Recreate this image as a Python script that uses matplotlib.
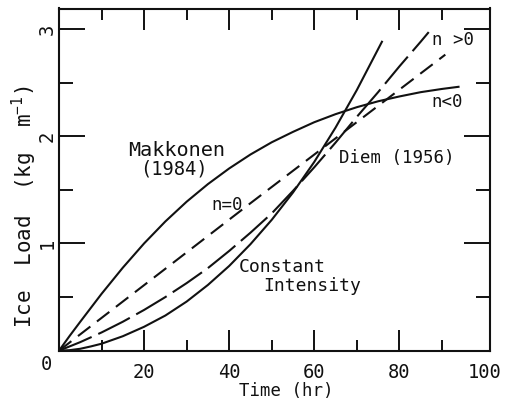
import matplotlib
matplotlib.use("Agg")
import matplotlib.pyplot as plt

plt.rcParams["font.family"] = ["DejaVu Sans Mono", "DejaVu Sans"]
plt.rcParams["mathtext.fontset"] = "custom"
plt.rcParams["mathtext.rm"] = "DejaVu Sans Mono"

# Ice load (kg/m) against time (hr) for the accretion models
time_makkonen = [0, 2.5, 5, 10, 15, 20, 25, 30, 35, 40, 45, 50, 55, 60, 65, 70, 75, 80,
                 85, 90, 93.9]
load_makkonen = [0, 0.138, 0.27, 0.53, 0.774, 1.0, 1.205, 1.389, 1.553, 1.699, 1.829,
                 1.943, 2.04, 2.13, 2.205, 2.27, 2.325, 2.37, 2.41, 2.44, 2.46]

time_n0 = [0, 45, 90.8]
load_n0 = [0, 1.375, 2.76]

time_npos = [0, 5, 10, 15, 20, 25, 30, 35, 40, 45, 50, 55, 60, 65, 70, 75, 80, 85, 86.9]
load_npos = [0, 0.08, 0.17, 0.27, 0.38, 0.50, 0.63, 0.77, 0.93, 1.10, 1.28, 1.49, 1.71,
             1.94, 2.18, 2.41, 2.65, 2.88, 2.97]

time_const = [0, 2.5, 5, 7.5, 10, 15, 20, 25, 30, 35, 40, 45, 50, 55, 60, 65, 70, 75.9]
load_const = [0, 0.005, 0.018, 0.04, 0.065, 0.135, 0.223, 0.328, 0.458, 0.613, 0.79,
              0.993, 1.22, 1.475, 1.76, 2.08, 2.43, 2.88]

x_major = [20, 40, 60, 80, 100]
x_major_labels = ["20", "40", "60", "80", "100"]
x_minor = [10, 30, 50, 70, 90]
y_major = [1, 2, 3]
y_major_labels = ["1", "2", "3"]
y_minor = [0.5, 1.5, 2.5]

ink = "#111111"
W, H = 508, 400

fig = plt.figure(figsize=(W / 100, H / 100), dpi=100)
ax = fig.add_axes([59 / W, (H - 350.7) / H, 431 / W, 342.2 / H])
ax.set_xlim(0, 101.3)
ax.set_ylim(0, 3.19)

lw = 1.5
ax.plot(time_makkonen, load_makkonen, color=ink, lw=lw, solid_joinstyle="round")
ax.plot(time_n0, load_n0, color=ink, lw=lw, dashes=(7.5, 4), dash_capstyle="butt")
ax.plot(time_npos, load_npos, color=ink, lw=lw, dashes=(17, 3.5), dash_capstyle="butt",
        dash_joinstyle="round")
ax.plot(time_const, load_const, color=ink, lw=lw, solid_joinstyle="round")

for s in ax.spines.values():
    s.set_linewidth(1.5)
    s.set_color(ink)

ax.set_xticks(x_major)
ax.set_xticklabels(x_major_labels)
ax.set_xticks(x_minor, minor=True)
ax.set_yticks(y_major)
ax.set_yticklabels(y_major_labels, rotation=90, va="center")
ax.set_yticks(y_minor, minor=True)

ax.tick_params(which="both", direction="in", top=True, right=True, width=1.4,
               color=ink, labelcolor=ink)
ax.tick_params(axis="x", which="major", length=15, pad=8.5, labelsize=13.5)
ax.tick_params(axis="x", which="minor", length=8)
ax.tick_params(axis="y", which="major", length=19, pad=1.5, labelsize=13.5)
ax.tick_params(axis="y", which="minor", length=10)

# the 100 position carries only its label
last = ax.xaxis.get_major_ticks()[-1]
last.tick1line.set_visible(False)
last.tick2line.set_visible(False)

# curve annotations
ax.text(27.7, 1.815, "Makkonen", fontsize=14.5, ha="center", va="baseline", color=ink)
ax.text(27.0, 1.64, "(1984)", fontsize=13.5, ha="center", va="baseline", color=ink)
ax.text(39.4, 1.312, "n=0", fontsize=12.5, ha="center", va="baseline", color=ink)
ax.text(52.5, 0.734, "Constant", fontsize=13, ha="center", va="baseline", color=ink)
ax.text(59.6, 0.557, "Intensity", fontsize=13, ha="center", va="baseline", color=ink)
ax.text(79.4, 1.75, "Diem (1956)", fontsize=12.5, ha="center", va="baseline", color=ink)
ax.text(92.6, 2.85, "n >0", fontsize=12.5, ha="center", va="baseline", color=ink)
ax.text(91.2, 2.275, "n<0", fontsize=12.5, ha="center", va="baseline", color=ink)

# axis titles and shared origin label
fig.text(286 / W, (H - 396) / H, "Time (hr)", fontsize=12.5, ha="center",
         va="baseline", color=ink)
fig.text(24 / W, (H - 206.7) / H, "Ice  Load  (kg  m$^{-1}$)", fontsize=15,
         rotation=90, ha="center", va="center", color=ink)
fig.text(46.7 / W, (H - 370) / H, "0", fontsize=13.5, ha="center", va="baseline",
         color=ink)

fig.savefig("out.png", dpi=100)
